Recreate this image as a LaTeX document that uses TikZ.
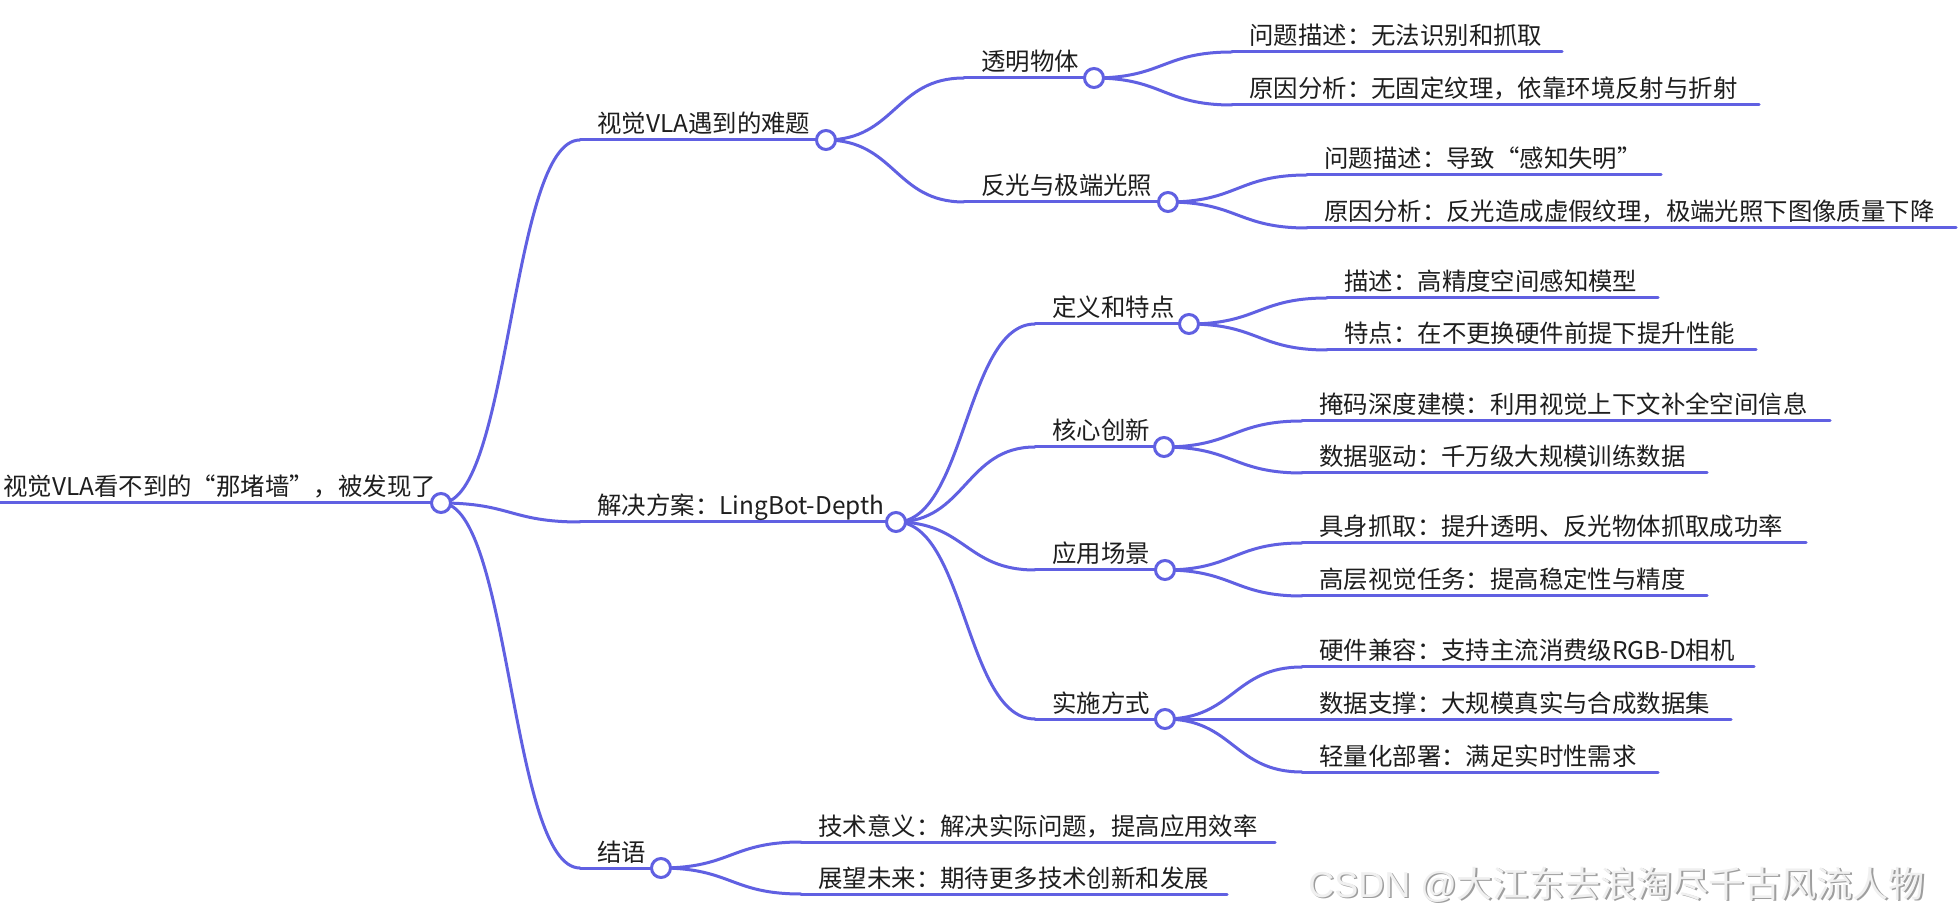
\documentclass[tikz,border=0pt]{standalone}
\usepackage{fontspec}
\setmainfont{Noto Sans CJK SC}
\newfontfamily\wmlatin{Liberation Sans}
\usetikzlibrary{calc}
\definecolor{mmline}{RGB}{96,96,226}
\definecolor{mmtext}{RGB}{30,30,30}
\tikzset{
  mmedge/.style={draw=mmline, line width=1.5pt, line cap=round},
  mmlabel/.style={anchor=base west, inner sep=0pt, text=mmtext, font=\fontsize{12.2pt}{14pt}\selectfont},
  mmdot/.style={circle, draw=mmline, fill=white, line width=1.5pt, minimum size=9.5pt, inner sep=0pt},
  wmtext/.style={anchor=base west, inner sep=0pt, font=\fontsize{18pt}{20pt}\selectfont}
}
% link from a parent dot to a child's line start
\newcommand\mmlink[2]{\draw[mmedge] let \p1=(#1), \p2=(#2) in (#1) .. controls ({(\x1+\x2)/2},\y1) and ({(\x1+\x2)/2},\y2) .. (#2);}
% inner topic: name, parent, start x, y, dot x, text
\newcommand\mmmid[6]{%
  \coordinate (s-#1) at (#3,#4);
  \coordinate (k-#1) at (#5,#4);
  \mmlink{k-#2}{s-#1}
  \draw[mmedge] (s-#1) -- (k-#1);
  \node[mmlabel] (t-#1) at ($(s-#1)+(17,-7)$) {#6};}
% leaf topic: name, parent, start x, y, end x, text
\newcommand\mmleaf[6]{%
  \coordinate (s-#1) at (#3,#4);
  \coordinate (e-#1) at (#5,#4);
  \mmlink{k-#2}{s-#1}
  \draw[mmedge] (s-#1) -- (e-#1);
  \node[mmlabel] (t-#1) at ($(s-#1)+(17,-7)$) {#6};}
\begin{document}
\begin{tikzpicture}[x=0.5pt,y=-0.5pt]
\fill[white] (0,0) rectangle (1960,924);
\useasboundingbox (0,0) rectangle (1960,924);
% root
\coordinate (s-root) at (0,503);
\coordinate (k-root) at (441,503);
\draw[mmedge, line cap=butt] (s-root) -- (k-root);
\node[mmlabel] (t-root) at (3,496) {视觉VLA看不到的“那堵墙”，被发现了};
% branch A
\mmmid{a}{root}{580}{140}{826}{视觉VLA遇到的难题}
\mmmid{a1}{a}{964}{78}{1094}{透明物体}
\mmleaf{a11}{a1}{1232}{52}{1562}{问题描述：无法识别和抓取}
\mmleaf{a12}{a1}{1232}{105}{1759}{原因分析：无固定纹理，依靠环境反射与折射}
\mmmid{a2}{a}{964}{202}{1168}{反光与极端光照}
\mmleaf{a21}{a2}{1307}{175}{1661}{问题描述：导致“感知失明”}
\mmleaf{a22}{a2}{1307}{228}{1956}{原因分析：反光造成虚假纹理，极端光照下图像质量下降}
% branch B
\mmmid{b}{root}{580}{522}{896}{解决方案：LingBot-Depth}
\mmmid{b1}{b}{1035}{324}{1189}{定义和特点}
\mmleaf{b11}{b1}{1327}{298}{1658}{描述：高精度空间感知模型}
\mmleaf{b12}{b1}{1327}{350}{1756}{特点：在不更换硬件前提下提升性能}
\mmmid{b2}{b}{1035}{447}{1164}{核心创新}
\mmleaf{b21}{b2}{1302}{421}{1830}{掩码深度建模：利用视觉上下文补全空间信息}
\mmleaf{b22}{b2}{1302}{473}{1707}{数据驱动：千万级大规模训练数据}
\mmmid{b3}{b}{1035}{570}{1165}{应用场景}
\mmleaf{b31}{b3}{1302}{543}{1806}{具身抓取：提升透明、反光物体抓取成功率}
\mmleaf{b32}{b3}{1302}{596}{1707}{高层视觉任务：提高稳定性与精度}
\mmmid{b4}{b}{1035}{719}{1165}{实施方式}
\mmleaf{b41}{b4}{1302}{667}{1754}{硬件兼容：支持主流消费级RGB-D相机}
\mmleaf{b42}{b4}{1302}{719}{1731}{数据支撑：大规模真实与合成数据集}
\mmleaf{b43}{b4}{1302}{772}{1658}{轻量化部署：满足实时性需求}
% branch C
\mmmid{c}{root}{580}{868}{661}{结语}
\mmleaf{c1}{c}{801}{842}{1275}{技术意义：解决实际问题，提高应用效率}
\mmleaf{c2}{c}{801}{894}{1227}{展望未来：期待更多技术创新和发展}
% dots on top
\foreach \n in {root,a,a1,a2,b,b1,b2,b3,b4,c}
  \node[mmdot] (c-\n) at (k-\n) {};
% watermark
\node[wmtext, text=black!38] (wm-shadow) at (1309.5,898.5) {{\wmlatin CSDN @}大江东去浪淘尽千古风流人物};
\node[wmtext, text=black!6] (wm) at (1308,897) {{\wmlatin CSDN @}大江东去浪淘尽千古风流人物};
\end{tikzpicture}
\end{document}
